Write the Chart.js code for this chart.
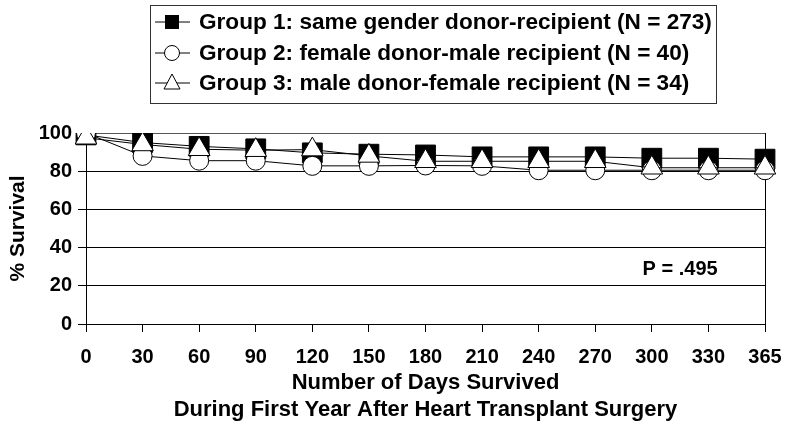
<!DOCTYPE html>
<html>
<head>
<meta charset="utf-8">
<script src="https://cdn.jsdelivr.net/npm/chart.js@4"></script>
<style>
  body { margin: 0; background: #fff; }
  #wrap { width: 800px; height: 440px; }
</style>
</head>
<body>
<div id="wrap"><canvas id="survivalChart"></canvas></div>
<script>
// days after transplant (category labels)
var days = ['0', '30', '60', '90', '120', '150', '180', '210', '240', '270', '300', '330', '365'];

// % survival
var group1 = [99, 95, 93, 91.7, 89.6, 88.9, 88.5, 87.5, 87.5, 87.5, 86.8, 86.8, 86.3];
var group2 = [100, 88, 85.5, 85.5, 82.8, 82.8, 83, 82.8, 80.5, 80.5, 80.5, 80.5, 80.5];
var group3 = [97.5, 94, 91.5, 91, 91.3, 88, 85.2, 85.2, 85.2, 85.2, 81.8, 81.8, 81.8];

var groupLabels = [
  'Group 1: same gender donor-recipient (N = 273)',
  'Group 2: female donor-male recipient (N = 40)',
  'Group 3: male donor-female recipient (N = 34)'
];
var yTicks = [0, 20, 40, 60, 80, 100];
var pValueText = 'P = .495';

var FONT = "'Liberation Sans', Arial, sans-serif";

// legend drawn by hand so it can have the boxed, one-per-row look
var boxedLegend = {
  id: 'boxedLegend',
  afterDraw: function (chart) {
    var ctx = chart.ctx;
    ctx.save();
    ctx.strokeStyle = '#333';
    ctx.lineWidth = 1;
    ctx.strokeRect(150.5, 5.5, 566, 98);
    var rows = [22, 53, 83];
    chart.data.datasets.forEach(function (ds, i) {
      var y = rows[i];
      ctx.strokeStyle = '#000';
      ctx.beginPath();
      ctx.moveTo(155, y);
      ctx.lineTo(190, y);
      ctx.stroke();
      ctx.fillStyle = ds.pointBackgroundColor;
      ctx.beginPath();
      var st = ds.pointStyle;
      if (st === 'rect') {
        ctx.fillStyle = '#000';
        ctx.fillRect(165, y - 7, 14, 14);
      } else if (st === 'circle') {
        ctx.arc(172, y, 7.5, 0, Math.PI * 2);
        ctx.fill();
        ctx.stroke();
      } else {
        ctx.moveTo(172, y - 9);
        ctx.lineTo(180, y + 6);
        ctx.lineTo(164, y + 6);
        ctx.closePath();
        ctx.fill();
        ctx.stroke();
      }
      ctx.fillStyle = '#000';
      ctx.font = 'bold 22.6px ' + FONT;
      ctx.textBaseline = 'middle';
      ctx.textAlign = 'left';
      ctx.fillText(ds.label, 199, y + 1);
    });

    // p value note inside the plot
    var xs = chart.scales.x, ys = chart.scales.y;
    var px = (xs.getPixelForValue(10) + xs.getPixelForValue(11)) / 2;
    ctx.font = 'bold 20px ' + FONT;
    ctx.textAlign = 'center';
    ctx.fillText(pValueText, px, ys.getPixelForValue(28.7));
    ctx.restore();
  }
};

var ctx = document.getElementById('survivalChart').getContext('2d');
var survivalChart = new Chart(ctx, {
  type: 'line',
  data: {
    labels: days,
    datasets: [{
      label: groupLabels[0],
      data: group1,
      pointStyle: 'rect',
      pointRadius: 14,
      pointBackgroundColor: '#000',
      pointBorderColor: '#000',
      pointBorderWidth: 1,
      borderColor: '#000',
      borderWidth: 1,
      order: 2
    }, {
      label: groupLabels[1],
      data: group2,
      pointStyle: 'circle',
      pointRadius: 9.5,
      pointBackgroundColor: '#fff',
      pointBorderColor: '#000',
      pointBorderWidth: 1,
      borderColor: '#000',
      borderWidth: 1,
      order: 1
    }, {
      label: groupLabels[2],
      data: group3,
      pointStyle: 'triangle',
      pointRadius: 12.5,
      pointBackgroundColor: '#fff',
      pointBorderColor: '#000',
      pointBorderWidth: 1,
      borderColor: '#000',
      borderWidth: 1,
      order: 0
    }]
  },
  options: {
    responsive: true,
    maintainAspectRatio: false,
    animation: false,
    layout: { padding: { top: 133, right: 35, left: 6, bottom: 0 } },
    plugins: {
      legend: { display: false },
      tooltip: { enabled: false }
    },
    scales: {
      x: {
        type: 'category',
        offset: false,
        grid: {
          color: function (c) { return c.index === days.length - 1 ? '#000' : 'rgba(0,0,0,0)'; },
          tickColor: '#000',
          tickLength: 8
        },
        border: { color: '#000' },
        ticks: {
          color: '#000',
          font: { family: FONT, size: 20, weight: 'bold' },
          padding: 13,
          maxRotation: 0,
          autoSkip: false
        },
        title: {
          display: true,
          text: ['Number of Days Survived', 'During First Year After Heart Transplant Surgery'],
          color: '#000',
          font: { family: FONT, size: 22, weight: 'bold', lineHeight: 1.2 },
          padding: { top: 0, bottom: 17 }
        },
        afterFit: function (s) { s.height = 116; }
      },
      y: {
        min: 0,
        max: 100,
        afterBuildTicks: function (s) {
          s.ticks = yTicks.map(function (v) { return { value: v }; });
        },
        grid: {
          color: function (c) { return c.tick && c.tick.value === 100 ? '#555' : '#000'; },
          tickColor: '#000',
          tickLength: 8
        },
        border: { color: '#000' },
        ticks: {
          color: '#000',
          font: { family: FONT, size: 20, weight: 'bold' },
          padding: 6
        },
        title: {
          display: true,
          text: '% Survival',
          color: '#000',
          font: { family: FONT, size: 21, weight: 'bold' },
          padding: { top: 0, bottom: 0 }
        },
        afterFit: function (s) { s.width = 80; }
      }
    }
  },
  plugins: [boxedLegend]
});
</script>
</body>
</html>
